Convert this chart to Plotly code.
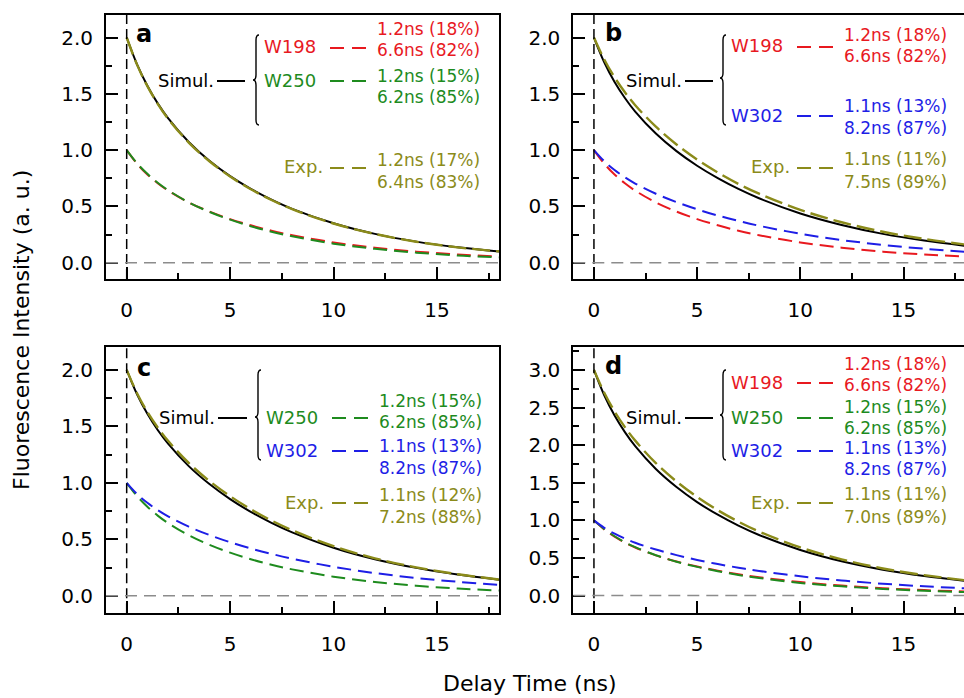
import plotly.graph_objects as go

# ---------------- data ----------------
t = [0, 0.5, 1, 1.5, 2, 3, 4, 5, 6, 7, 8, 10, 12, 14, 16, 18]

w198 = [1.000, 0.879, 0.783, 0.705, 0.640, 0.535, 0.454, 0.387, 0.332, 0.284, 0.244, 0.180, 0.133, 0.098, 0.073, 0.054]
w250 = [1.000, 0.883, 0.789, 0.710, 0.644, 0.536, 0.451, 0.382, 0.324, 0.275, 0.234, 0.169, 0.123, 0.089, 0.064, 0.047]
w302 = [1.000, 0.901, 0.823, 0.758, 0.703, 0.612, 0.538, 0.474, 0.419, 0.371, 0.328, 0.257, 0.201, 0.158, 0.124, 0.097]

sim_a = [2.000, 1.762, 1.572, 1.415, 1.284, 1.072, 0.905, 0.769, 0.656, 0.560, 0.478, 0.350, 0.256, 0.187, 0.137, 0.100]
exp_a = [2.000, 1.759, 1.568, 1.411, 1.279, 1.067, 0.901, 0.765, 0.652, 0.557, 0.476, 0.348, 0.255, 0.186, 0.136, 0.100]
sim_b = [2.000, 1.780, 1.605, 1.463, 1.342, 1.147, 0.991, 0.861, 0.751, 0.655, 0.572, 0.437, 0.335, 0.256, 0.196, 0.150]
exp_b = [2.000, 1.805, 1.646, 1.513, 1.399, 1.208, 1.050, 0.916, 0.801, 0.700, 0.613, 0.469, 0.359, 0.275, 0.211, 0.161]
sim_c = [2.000, 1.784, 1.611, 1.468, 1.347, 1.148, 0.989, 0.856, 0.743, 0.646, 0.562, 0.426, 0.324, 0.247, 0.188, 0.143]
exp_c = [2.000, 1.794, 1.628, 1.490, 1.372, 1.176, 1.016, 0.882, 0.766, 0.666, 0.580, 0.439, 0.332, 0.252, 0.191, 0.144]
sim_d = [3.000, 2.663, 2.394, 2.173, 1.986, 1.683, 1.443, 1.243, 1.075, 0.930, 0.806, 0.607, 0.457, 0.345, 0.261, 0.197]
exp_d = [3.000, 2.696, 2.447, 2.239, 2.060, 1.761, 1.517, 1.311, 1.135, 0.983, 0.852, 0.640, 0.481, 0.361, 0.272, 0.204]

x_ticks = [0, 5, 10, 15]
panel_letters = ["a", "b", "c", "d"]

lab_w198 = ["W198", "1.2ns (18%)", "6.6ns (82%)"]
lab_w250 = ["W250", "1.2ns (15%)", "6.2ns (85%)"]
lab_w302 = ["W302", "1.1ns (13%)", "8.2ns (87%)"]
lab_exp_a = ["Exp.", "1.2ns (17%)", "6.4ns (83%)"]
lab_exp_b = ["Exp.", "1.1ns (11%)", "7.5ns (89%)"]
lab_exp_c = ["Exp.", "1.1ns (12%)", "7.2ns (88%)"]
lab_exp_d = ["Exp.", "1.1ns (11%)", "7.0ns (89%)"]

# ---------------- styling ----------------
W, H = 964, 698
FONT = "DejaVu Sans"
RED, GREEN, BLUE, OLIVE = "#E8191F", "#1E8B1E", "#1E1EE6", "#8B8B1A"
COMP_DASH = "14px,7px"
EXP_DASH = "18px,6px"
VAL_SIZE = 17


def px(x):
    return x / W


def py(y):
    return 1 - y / H


fig = go.Figure()

panels = [
    dict(k="a", xa="x", ya="y", xd=(106, 499), yd=(15, 279), xr=[-1, 18], yr=[-0.145, 2.2], my=True,
         comps=[(w198, RED), (w250, GREEN)], sim=sim_a, exp=exp_a),
    dict(k="b", xa="x2", ya="y2", xd=(573.3, 964), yd=(15, 279), xr=[-1, 17.93], yr=[-0.145, 2.2], my=False,
         comps=[(w198, RED), (w302, BLUE)], sim=sim_b, exp=exp_b),
    dict(k="c", xa="x3", ya="y3", xd=(106, 499), yd=(347.3, 613.3), xr=[-1, 18], yr=[-0.155, 2.2], my=True,
         comps=[(w250, GREEN), (w302, BLUE)], sim=sim_c, exp=exp_c),
    dict(k="d", xa="x4", ya="y4", xd=(573.3, 964), yd=(347.3, 613.3), xr=[-1, 17.93], yr=[-0.235, 3.3], my=False,
         comps=[(w198, RED), (w250, GREEN), (w302, BLUE)], sim=sim_d, exp=exp_d),
]

layout_axes = {}
shapes = []
for p in panels:
    for vals, col in p["comps"]:
        fig.add_trace(go.Scatter(x=t, y=vals, mode="lines", xaxis=p["xa"], yaxis=p["ya"],
                                 line=dict(color=col, width=2, dash=COMP_DASH, shape="spline"),
                                 showlegend=False, hoverinfo="skip"))
    fig.add_trace(go.Scatter(x=t, y=p["sim"], mode="lines", xaxis=p["xa"], yaxis=p["ya"],
                             line=dict(color="black", width=2, shape="spline"),
                             showlegend=False, hoverinfo="skip"))
    fig.add_trace(go.Scatter(x=t, y=p["exp"], mode="lines", xaxis=p["xa"], yaxis=p["ya"],
                             line=dict(color=OLIVE, width=2.4, dash=EXP_DASH, shape="spline"),
                             showlegend=False, hoverinfo="skip"))

    xname = "xaxis" + p["xa"][1:]
    yname = "yaxis" + p["ya"][1:]
    layout_axes[xname] = dict(
        domain=[px(p["xd"][0]), min(1.0, px(p["xd"][1]))], range=p["xr"], anchor=p["ya"],
        showline=True, linecolor="black", linewidth=2, mirror=True,
        ticks="inside", ticklen=12, tickwidth=2, tickcolor="black",
        tickmode="array", tickvals=x_ticks, ticktext=[str(v) for v in x_ticks],
        minor=dict(ticks="inside", ticklen=6, tickwidth=2, tickcolor="black", dtick=2.5, tick0=0),
        showgrid=False, zeroline=False, ticklabelstandoff=12,
        tickfont=dict(family=FONT, size=20, color="black"), fixedrange=True)
    layout_axes[yname] = dict(
        domain=[py(p["yd"][1]), py(p["yd"][0])], range=p["yr"], anchor=p["xa"],
        showline=True, linecolor="black", linewidth=2, mirror=p["my"],
        ticks="inside", ticklen=12, tickwidth=2, tickcolor="black",
        tick0=0, dtick=0.5, tickformat=".1f",
        minor=dict(ticks="inside", ticklen=6, tickwidth=2, tickcolor="black", dtick=0.25, tick0=0),
        showgrid=False, zeroline=False, ticklabelstandoff=7,
        tickfont=dict(family=FONT, size=20, color="black"), fixedrange=True)

    shapes.append(dict(type="line", xref=p["xa"], yref=p["ya"] + " domain", x0=0, x1=0, y0=0, y1=1,
                       line=dict(color="black", width=1.5, dash="10px,5px")))
    shapes.append(dict(type="line", xref=p["xa"] + " domain", yref=p["ya"], x0=0, x1=1, y0=0, y1=0,
                       line=dict(color="#8C8C8C", width=1.5, dash="12px,7px")))

annotations = []


def text(s, x, y, color="black", anchor="left", size=18, bold=False, angle=0):
    annotations.append(dict(text=("<b>%s</b>" % s) if bold else s, x=px(x), y=py(y), xref="paper", yref="paper",
                            xanchor=anchor, yanchor="middle", showarrow=False, textangle=angle, borderpad=0,
                            font=dict(family=FONT, size=size, color=color)))


def hline(x0, x1, y, color, dash=None):
    d = dict(color=color, width=2)
    if dash:
        d["dash"] = dash
    shapes.append(dict(type="line", xref="paper", yref="paper", x0=px(x0), x1=px(x1), y0=py(y), y1=py(y), line=d))


def brace(xtip, ytop, ybot, ymid, w=6, r=5):
    xm = xtip + w / 2
    xr = xtip + w
    pts = [
        ("M", xr, ytop), ("Q", xm, ytop), ("", xm, ytop + r), ("L", xm, ymid - r),
        ("Q", xm, ymid), ("", xtip, ymid), ("Q", xm, ymid), ("", xm, ymid + r),
        ("L", xm, ybot - r), ("Q", xm, ybot), ("", xr, ybot)]
    path = " ".join("%s%.5f,%.5f" % (c, px(a), py(b)) for c, a, b in pts)
    shapes.append(dict(type="path", xref="paper", yref="paper", path=path,
                       line=dict(color="black", width=1.4)))


def entry(lab, color, xl, xd0, xd1, xv, yl, yv1, yv2, anchor="left"):
    text(lab[0], xl, yl, color, anchor)
    hline(xd0, xd1, yl + 1, color, "14px,8px")
    text(lab[1], xv, yv1, color, size=VAL_SIZE)
    text(lab[2], xv, yv2, color, size=VAL_SIZE)


# panel a
text(panel_letters[0], 135, 34, bold=True, size=24)
text("Simul.", 215, 80, anchor="right")
hline(217, 245, 81, "black")
brace(253, 35, 125, 80)
entry(lab_w198, RED, 263, 330, 370, 376, 47, 29, 50)
entry(lab_w250, GREEN, 263, 330, 370, 376, 80, 76, 97)
entry(lab_exp_a, OLIVE, 324, 330, 370, 376, 167, 160, 182, anchor="right")

# panel b
text(panel_letters[1], 604, 33, bold=True, size=24)
text("Simul.", 683, 80, anchor="right")
hline(685, 713, 81, "black")
brace(720, 35, 125, 78)
entry(lab_w198, RED, 730, 797, 833, 843, 46, 35, 56)
entry(lab_w302, BLUE, 730, 797, 833, 843, 115, 106, 127.5)
entry(lab_exp_b, OLIVE, 791, 797, 833, 843, 167, 159, 182, anchor="right")

# panel c
text(panel_letters[2], 136, 368, bold=True, size=24)
text("Simul.", 216, 417, anchor="right")
hline(218, 247, 418, "black")
brace(255, 370, 460, 417)
entry(lab_w250, GREEN, 265, 332, 372, 378, 417, 401, 422)
entry(lab_w302, BLUE, 265, 332, 372, 378, 450, 446, 467.5)
entry(lab_exp_c, OLIVE, 325, 332, 372, 378, 502, 495, 517, anchor="right")

# panel d
text(panel_letters[3], 604, 366, bold=True, size=24)
text("Simul.", 683, 417, anchor="right")
hline(685, 713, 418, "black")
brace(720, 370, 460, 415)
entry(lab_w198, RED, 730, 797, 833, 843, 382, 364, 385)
entry(lab_w250, GREEN, 730, 797, 833, 843, 417, 406.5, 427.5)
entry(lab_w302, BLUE, 730, 797, 833, 843, 450, 448, 469)
entry(lab_exp_d, OLIVE, 791, 797, 833, 843, 502, 494, 517, anchor="right")

# axis titles
text("Fluorescence Intensity (a. u.)", 22, 330, anchor="center", size=22, angle=-90)
text("Delay Time (ns)", 530, 683, anchor="center", size=22)

fig.update_layout(
    width=W, height=H, margin=dict(l=0, r=0, t=0, b=0),
    paper_bgcolor="white", plot_bgcolor="white",
    showlegend=False, shapes=shapes, annotations=annotations,
    **layout_axes)

fig.write_html("out.html", config={"displayModeBar": False})
